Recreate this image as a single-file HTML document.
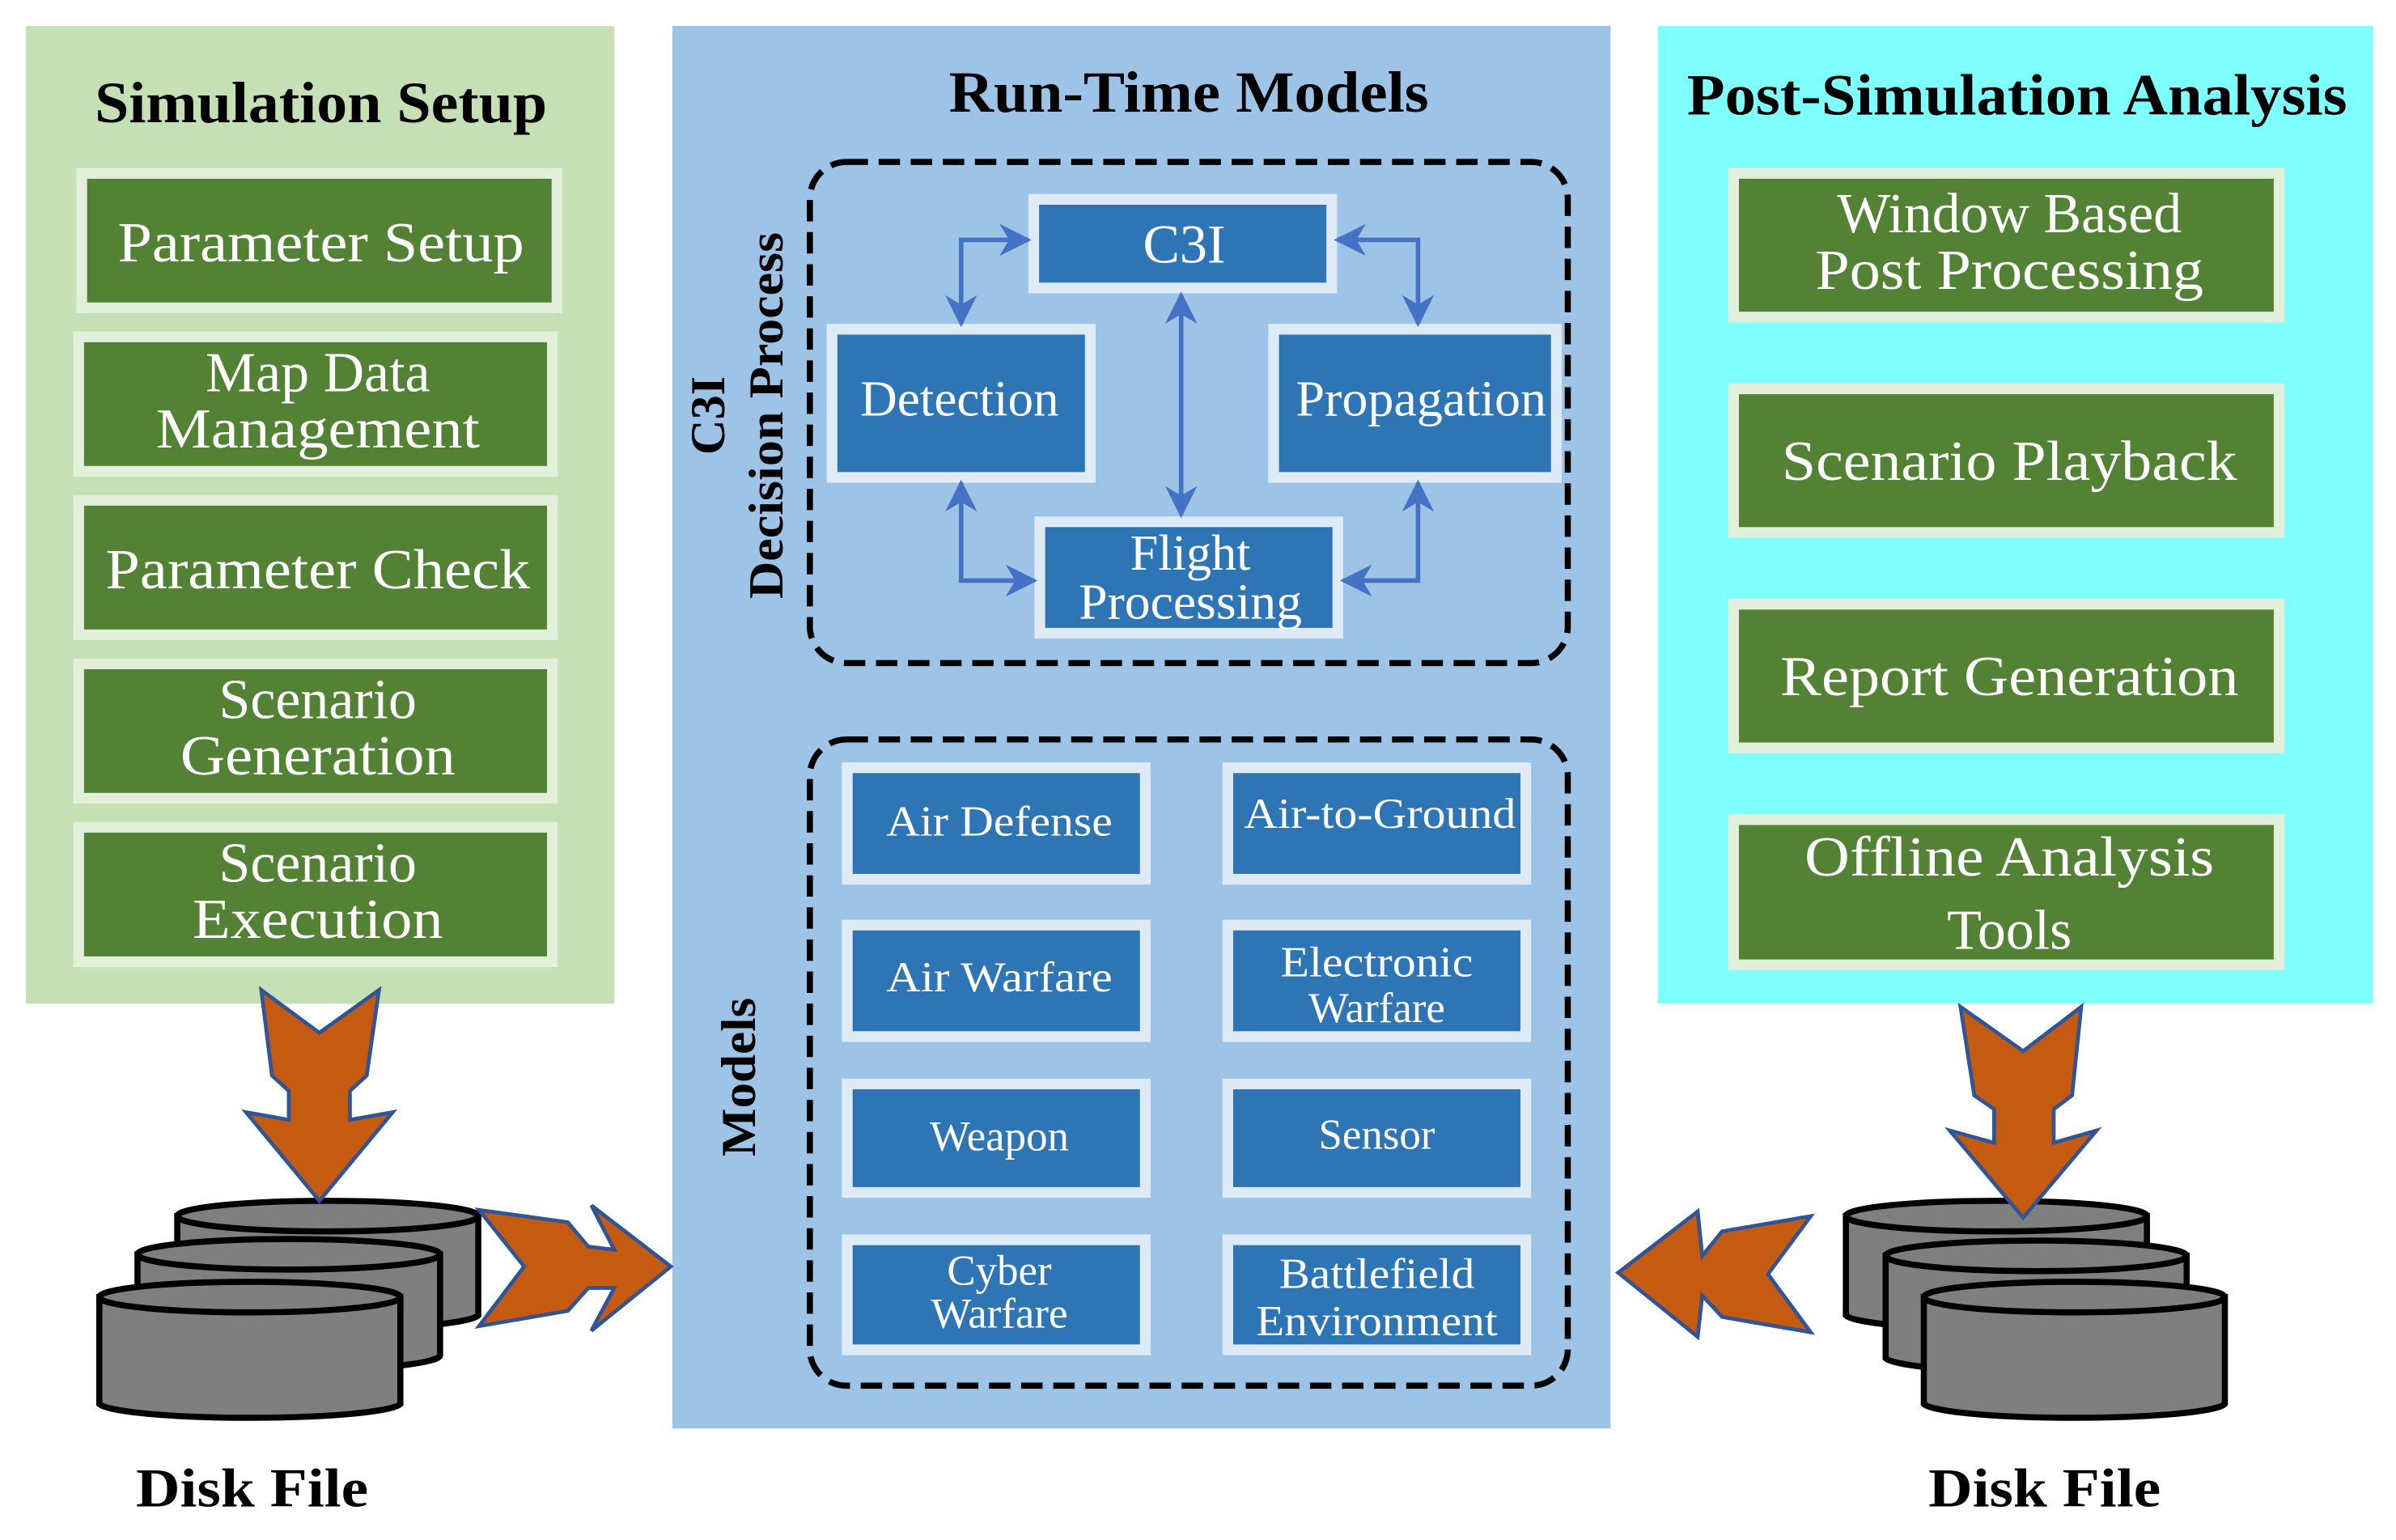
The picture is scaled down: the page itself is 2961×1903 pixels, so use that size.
<!DOCTYPE html>
<html><head><meta charset="utf-8"><style>
html,body{margin:0;padding:0;background:#fff;}
svg{display:block;}
text{font-family:"Liberation Serif",serif;}
</style></head><body>
<svg width="2961" height="1903" viewBox="0 0 1568 1008" preserveAspectRatio="none" xmlns="http://www.w3.org/2000/svg">
<defs>
<marker id="ah" viewBox="0 0 10 10" refX="9" refY="5" markerWidth="7" markerHeight="7" orient="auto-start-reverse" markerUnits="strokeWidth">
<path d="M0,0 L10,5 L0,10 L3,5 z" fill="#4472c4"/></marker>
</defs>
<!-- panels -->
<rect x="17" y="17" width="385" height="640" fill="#c5e0b4"/>
<rect x="440" y="17" width="614" height="918" fill="#9dc3e6"/>
<rect x="1085" y="17" width="468" height="640" fill="#80ffff"/>

<text x="210" y="80" font-size="38" font-weight="bold" text-anchor="middle" textLength="296" lengthAdjust="spacingAndGlyphs">Simulation Setup</text>
<text x="778" y="73" font-size="38" font-weight="bold" text-anchor="middle" textLength="314" lengthAdjust="spacingAndGlyphs">Run-Time Models</text>
<text x="1320" y="75" font-size="38" font-weight="bold" text-anchor="middle" textLength="432" lengthAdjust="spacingAndGlyphs">Post-Simulation Analysis</text>

<!-- left green boxes -->
<g fill="#548235" stroke="#e2efda" stroke-width="7">
<rect x="53.5" y="113.5" width="311" height="88"/>
<rect x="51.5" y="220.5" width="310" height="88"/>
<rect x="51.5" y="327.5" width="310" height="88"/>
<rect x="51.5" y="434.5" width="310" height="88"/>
<rect x="51.5" y="541.5" width="310" height="88"/>
</g>
<g fill="#fff" font-size="37" text-anchor="middle">
<text x="210" y="171" textLength="266" lengthAdjust="spacingAndGlyphs">Parameter Setup</text>
<text x="208" y="256">Map Data</text>
<text x="208" y="293" textLength="212" lengthAdjust="spacingAndGlyphs">Management</text>
<text x="208" y="385" textLength="278" lengthAdjust="spacingAndGlyphs">Parameter Check</text>
<text x="208" y="470">Scenario</text>
<text x="208" y="507" textLength="180" lengthAdjust="spacingAndGlyphs">Generation</text>
<text x="208" y="577">Scenario</text>
<text x="208" y="614" textLength="164" lengthAdjust="spacingAndGlyphs">Execution</text>
</g>

<!-- right green boxes -->
<g fill="#548235" stroke="#e2efda" stroke-width="7">
<rect x="1134.5" y="113.5" width="357" height="94"/>
<rect x="1134.5" y="254.5" width="357" height="94"/>
<rect x="1134.5" y="395.5" width="357" height="94"/>
<rect x="1134.5" y="536.5" width="357" height="95"/>
</g>
<g fill="#fff" font-size="37" text-anchor="middle">
<text x="1315" y="152">Window Based</text>
<text x="1315" y="189" textLength="254" lengthAdjust="spacingAndGlyphs">Post Processing</text>
<text x="1315" y="314" textLength="298" lengthAdjust="spacingAndGlyphs">Scenario Playback</text>
<text x="1315" y="455" textLength="300" lengthAdjust="spacingAndGlyphs">Report Generation</text>
<text x="1315" y="573" textLength="268" lengthAdjust="spacingAndGlyphs">Offline Analysis</text>
<text x="1315" y="621">Tools</text>
</g>

<!-- dashed boxes -->
<rect x="530" y="106" width="496" height="328" rx="24" fill="none" stroke="#000" stroke-width="4" stroke-dasharray="14,7"/>
<rect x="530" y="484" width="496" height="423" rx="24" fill="none" stroke="#000" stroke-width="4" stroke-dasharray="14,7"/>

<!-- vertical labels -->
<text transform="translate(474,272) rotate(-90)" font-size="32" font-weight="bold" text-anchor="middle">C3I</text>
<text transform="translate(512,272) rotate(-90)" font-size="32" font-weight="bold" text-anchor="middle" textLength="240" lengthAdjust="spacingAndGlyphs">Decision Process</text>
<text transform="translate(494,705) rotate(-90)" font-size="32" font-weight="bold" text-anchor="middle" textLength="104" lengthAdjust="spacingAndGlyphs">Models</text>

<!-- C3I blue boxes -->
<g fill="#2e75b6" stroke="#deebf7" stroke-width="7">
<rect x="676.5" y="130.5" width="195" height="58"/>
<rect x="544.5" y="215.5" width="169" height="97"/>
<rect x="833.5" y="215.5" width="185" height="97"/>
<rect x="680.5" y="341.5" width="195" height="73"/>
</g>
<g fill="#fff" text-anchor="middle">
<text x="775" y="172" font-size="36">C3I</text>
<text x="628" y="272" font-size="33" textLength="130" lengthAdjust="spacingAndGlyphs">Detection</text>
<text x="930" y="272" font-size="33" textLength="164" lengthAdjust="spacingAndGlyphs">Propagation</text>
<text x="779" y="373" font-size="33">Flight</text>
<text x="779" y="405" font-size="33" textLength="146" lengthAdjust="spacingAndGlyphs">Processing</text>
</g>

<!-- connectors -->
<g fill="none" stroke="#4472c4" stroke-width="3" marker-start="url(#ah)" marker-end="url(#ah)">
<path d="M629,212 L629,157 L673,157"/>
<path d="M875,157 L928,157 L928,212"/>
<path d="M773,193 L773,337"/>
<path d="M629,316 L629,380 L677,380"/>
<path d="M928,316 L928,380 L879,380"/>
</g>

<!-- models boxes -->
<g fill="#2e75b6" stroke="#deebf7" stroke-width="7">
<rect x="554.5" y="502.5" width="195" height="73"/>
<rect x="803.5" y="502.5" width="195" height="73"/>
<rect x="554.5" y="605.5" width="195" height="73"/>
<rect x="803.5" y="605.5" width="195" height="73"/>
<rect x="554.5" y="709.5" width="195" height="71"/>
<rect x="803.5" y="709.5" width="195" height="71"/>
<rect x="554.5" y="811.5" width="195" height="72"/>
<rect x="803.5" y="811.5" width="195" height="72"/>
</g>
<g fill="#fff" text-anchor="middle" font-size="28">
<text x="654" y="547" textLength="148" lengthAdjust="spacingAndGlyphs">Air Defense</text>
<text x="903" y="542" textLength="178" lengthAdjust="spacingAndGlyphs">Air-to-Ground</text>
<text x="654" y="649" textLength="148" lengthAdjust="spacingAndGlyphs">Air Warfare</text>
<text x="901" y="639" textLength="126" lengthAdjust="spacingAndGlyphs">Electronic</text>
<text x="901" y="669">Warfare</text>
<text x="654" y="753">Weapon</text>
<text x="901" y="752">Sensor</text>
<text x="654" y="841">Cyber</text>
<text x="654" y="869">Warfare</text>
<text x="901" y="843" textLength="128" lengthAdjust="spacingAndGlyphs">Battlefield</text>
<text x="901" y="874" textLength="158" lengthAdjust="spacingAndGlyphs">Environment</text>
</g>

<!-- disks left -->
<g fill="#7f7f7f" stroke="#000" stroke-width="4">
<path d="M116,796 L116,861 A99,10 0 0 0 313,861 L313,796 Z"/><ellipse cx="214.5" cy="796" rx="98.5" ry="10"/>
<path d="M90,821 L90,887 A99,10 0 0 0 288,887 L288,821 Z"/><ellipse cx="189" cy="821" rx="99" ry="10"/>
<path d="M65,849 L65,919 A99,10 0 0 0 262,919 L262,849 Z"/><ellipse cx="163.5" cy="849" rx="98.5" ry="10"/>
</g>
<!-- disks right -->
<g fill="#7f7f7f" stroke="#000" stroke-width="4">
<path d="M1208,796 L1208,861 A99,10 0 0 0 1405,861 L1405,796 Z"/><ellipse cx="1306.5" cy="796" rx="98.5" ry="10"/>
<path d="M1234,822 L1234,889 A99,10 0 0 0 1431,889 L1431,822 Z"/><ellipse cx="1332.5" cy="822" rx="98.5" ry="10"/>
<path d="M1259,849 L1259,919 A99,10 0 0 0 1456,919 L1456,849 Z"/><ellipse cx="1357.5" cy="849" rx="98.5" ry="10"/>
</g>

<!-- orange arrows -->
<g fill="#c55a11" stroke="#2f5597" stroke-width="2.5" stroke-linejoin="miter">
<path d="M171,648 L209,676 L248,648 L240,704 L229,714 L229,733 L257,728 L209,786 L161,728 L189,733 L189,714 L178,704 Z"/>
<path d="M313.5,792 L371.6,800 L385,816 L402,818 L387,789 L439,829 L387,871 L402,843 L385,843 L371.6,858 L313.5,868 L343,829 Z"/>
<path d="M1283,659 L1324,688 L1362,659 L1356,717 L1344,726 L1344,748 L1372,740 L1324,797 L1276,740 L1305,748 L1305,726 L1292,717 Z"/>
<path d="M1185,796 L1127,806 L1114,822 L1111,793 L1059,833 L1111,875 L1114,848 L1127,862 L1185,872 L1157,834 Z"/>
</g>

<text x="165" y="986" font-size="36" font-weight="bold" text-anchor="middle" textLength="152" lengthAdjust="spacingAndGlyphs">Disk File</text>
<text x="1338" y="986" font-size="36" font-weight="bold" text-anchor="middle" textLength="152" lengthAdjust="spacingAndGlyphs">Disk File</text>
</svg>
</body></html>
